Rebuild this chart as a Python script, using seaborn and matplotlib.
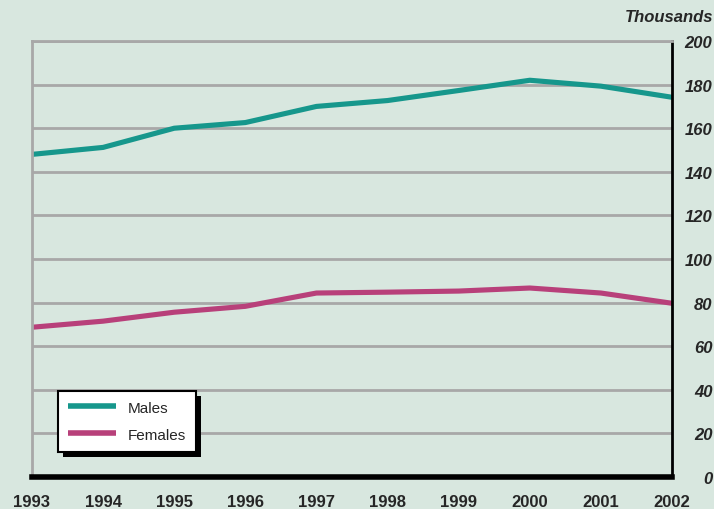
import matplotlib
matplotlib.use("Agg")
import matplotlib.pyplot as plt
import seaborn as sns
import pandas as pd
from matplotlib.lines import Line2D
from matplotlib.patches import Rectangle
from matplotlib.transforms import IdentityTransform

years = [1993, 1994, 1995, 1996, 1997, 1998, 1999, 2000, 2001, 2002]
males = [148.0, 151.2, 160.0, 162.6, 170.0, 172.7, 177.3, 182.0, 179.3, 174.2]
females = [68.7, 71.5, 75.6, 78.3, 84.4, 84.8, 85.3, 86.7, 84.4, 79.7]
series_names = ["Males", "Females"]
yticks = [0, 20, 40, 60, 80, 100, 120, 140, 160, 180, 200]

df = pd.DataFrame({
    "Year": years * 2,
    "Value": males + females,
    "Series": [series_names[0]] * len(years) + [series_names[1]] * len(years),
})

sns.set_style("white")
plt.rcParams["font.family"] = ["Liberation Sans", "DejaVu Sans"]
bg = "#d8e7df"
teal = "#16978c"
magenta = "#b8407a"
fig = plt.figure(figsize=(7.14, 5.10), dpi=100, facecolor=bg)
ax = fig.add_axes([0.0448, 0.0627, 0.8964, 0.8549])
ax.set_facecolor(bg)

sns.lineplot(data=df, x="Year", y="Value", hue="Series",
             palette={"Males": teal, "Females": magenta},
             linewidth=3.7, ax=ax, legend=False)

ax.set_xlim(1993, 2002)
ax.set_ylim(0, 200)
ax.set_yticks(yticks)
ax.set_xticks(years)
ax.grid(axis="y", color="#a8a8a8", linewidth=2)
ax.set_axisbelow(True)

ax.yaxis.tick_right()
ax.tick_params(axis="y", length=0, pad=29, labelsize=12)
ax.set_yticklabels([str(v) for v in yticks], fontweight="bold", fontstyle="italic",
                   ha="right")
ax.tick_params(axis="x", length=4, width=3, color="black", pad=8, labelsize=12)
ax.set_xticklabels([str(y) for y in years], fontweight="bold")
ax.set_xlabel("")
ax.set_ylabel("")

for s in ["top", "left"]:
    ax.spines[s].set_color("#a8a8a8")
    ax.spines[s].set_linewidth(2)
ax.spines["right"].set_color("black")
ax.spines["right"].set_linewidth(2)
ax.spines["bottom"].set_color("black")
ax.spines["bottom"].set_linewidth(4)
ax.spines["bottom"].set_zorder(5)

fig.text(713 / 714, 1 - 18 / 510, "Thousands", ha="right", va="center",
         fontsize=12, fontweight="bold", fontstyle="italic")

handles = [Line2D([], [], color=teal, linewidth=4, solid_capstyle="butt"),
           Line2D([], [], color=magenta, linewidth=4, solid_capstyle="butt")]
leg = ax.legend(handles, series_names, loc="upper left", bbox_to_anchor=(0.041, 0.198),
                frameon=True, fancybox=False, shadow=False,
                edgecolor="black", facecolor="white", fontsize=11,
                handlelength=3.1, handletextpad=0.8, borderpad=0.65, labelspacing=0.85,
                borderaxespad=0)
leg.get_frame().set_linewidth(1.5)
leg.get_frame().set_alpha(1)
leg.set_zorder(6)

fig.canvas.draw()
bb = leg.get_window_extent()
shadow = Rectangle((bb.x0 + 5, bb.y0 - 5), bb.width, bb.height, transform=IdentityTransform(),
                   facecolor="black", edgecolor="none", zorder=5.5, clip_on=False)
ax.add_artist(shadow)

fig.savefig("out.png", dpi=100, facecolor=bg)
